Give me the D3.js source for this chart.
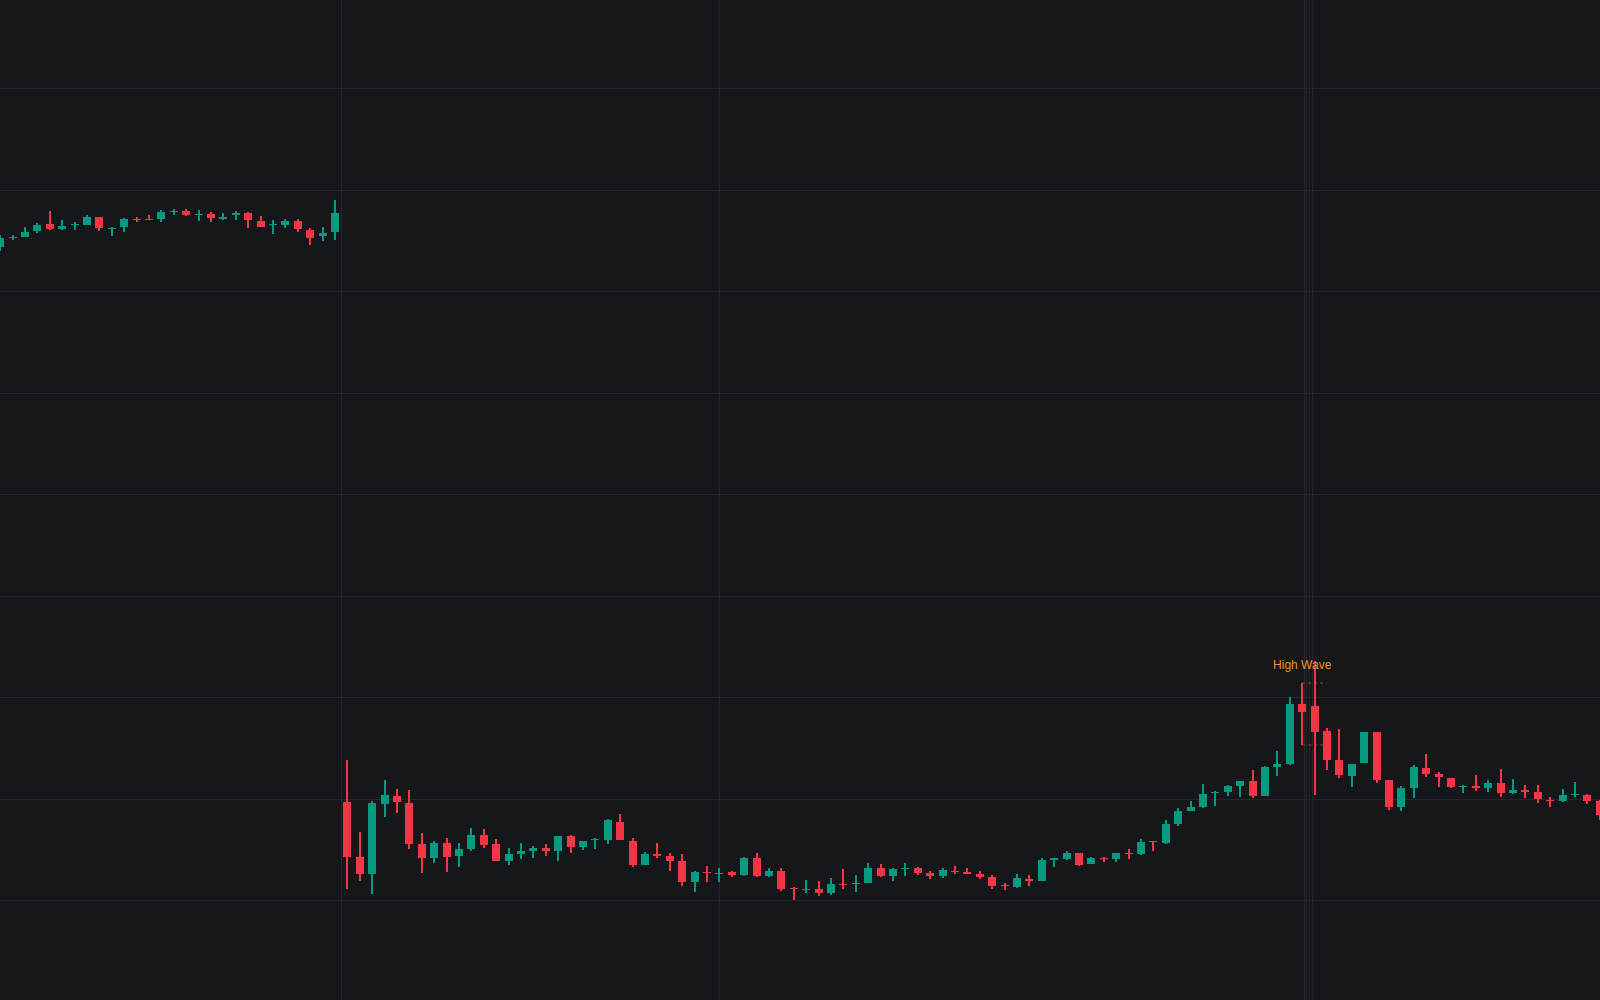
<!DOCTYPE html>
<html>
<head>
<meta charset="utf-8">
<script src="https://cdn.jsdelivr.net/npm/d3@7"></script>
<style>
html,body{margin:0;padding:0;background:#16171b;overflow:hidden;}
svg{display:block;}
</style>
</head>
<body>
<svg id="chart" width="1600" height="1000"></svg>
<script>
const openP = [
164.41,165.27,165.37,165.96,166.68,166.16,166.52,166.58,167.34,166.16,
166.29,167.14,167.14,167.14,167.83,167.93,167.51,167.64,167.17,167.47,
167.73,166.95,166.52,166.55,166.95,166.06,165.40,165.86,109.68,104.27,
102.59,109.49,110.28,109.59,105.55,104.17,105.65,104.37,105.06,106.43,
105.55,103.87,104.56,104.86,105.15,104.86,106.34,105.25,105.91,105.94,
107.71,105.84,103.48,104.56,104.37,103.87,101.80,102.79,102.59,102.79,
102.49,104.17,102.40,102.89,101.24,101.02,101.12,100.72,101.61,101.61,
101.71,103.18,102.40,103.08,103.18,102.69,102.40,102.89,102.79,102.59,
102.30,101.51,101.31,102.10,101.90,104.00,104.07,104.66,103.58,104.17,
104.07,104.66,104.56,105.84,105.65,107.52,108.80,109.19,110.57,110.67,
111.26,111.75,110.28,113.13,113.43,119.34,119.14,116.68,113.82,112.25,
113.53,116.58,111.85,109.19,111.06,113.03,112.44,112.05,111.16,111.26,
111.06,111.56,110.57,110.87,110.67,109.88,109.78,110.37,110.37,109.78];
const highP = [
165.57,165.50,166.36,166.72,167.93,167.04,166.85,167.54,167.34,166.36,
167.24,167.34,167.54,168.03,168.13,168.13,168.03,167.83,167.73,167.93,
167.83,167.44,167.04,167.14,167.14,166.26,166.36,169.02,113.82,106.73,
109.78,111.85,110.97,110.87,106.63,105.84,106.14,105.65,107.12,107.02,
106.04,105.15,105.65,105.35,105.55,106.34,106.43,105.84,106.14,108.01,
108.50,106.14,104.76,105.65,104.66,104.56,102.89,103.38,103.18,102.89,
104.27,104.66,103.18,103.18,101.31,102.00,101.90,102.20,103.08,102.49,
103.68,103.58,103.18,103.68,103.28,102.89,103.18,103.38,103.18,102.89,
102.49,101.71,102.59,102.49,104.17,104.17,104.86,104.66,104.27,104.27,
104.66,105.06,106.04,105.84,107.91,109.10,109.78,111.46,110.77,111.36,
111.75,112.84,113.23,114.71,120.03,121.41,123.57,116.97,116.88,113.43,
116.58,116.58,111.85,111.26,113.33,114.41,112.64,112.05,111.36,112.34,
111.85,112.94,111.95,111.36,111.36,110.18,110.97,111.65,110.47,109.88];
const lowP = [
163.99,165.01,165.37,165.76,166.06,166.06,166.06,166.58,165.96,165.47,
165.86,166.78,167.07,166.85,167.54,167.44,166.95,166.85,167.04,167.04,
166.26,166.36,165.67,166.26,165.86,164.58,164.98,165.07,101.12,101.90,
100.62,108.21,108.60,105.06,102.69,103.68,102.79,103.28,104.86,105.15,
103.87,103.48,104.07,104.17,104.37,103.87,104.66,104.96,105.06,105.55,
105.94,103.28,103.48,104.17,102.89,101.40,100.82,101.80,101.80,102.30,
102.40,102.30,102.30,100.92,100.02,100.72,100.43,100.52,101.12,100.82,
101.71,102.30,101.90,102.40,102.49,102.10,102.20,102.59,102.59,102.10,
101.12,101.02,101.21,101.41,101.90,103.28,103.97,103.38,103.58,103.77,
103.77,104.07,104.46,104.86,105.55,107.32,108.80,109.10,109.29,110.28,
110.18,110.08,110.28,112.25,113.33,115.30,110.37,112.84,112.05,111.16,
113.53,111.56,108.90,108.80,110.08,112.15,111.16,111.06,110.57,110.77,
110.67,110.18,110.47,110.08,109.59,109.19,109.68,110.18,109.49,107.91];
const closeP = [
165.24,165.37,165.86,166.58,166.16,166.45,166.62,167.34,166.19,166.26,
167.14,167.04,167.07,167.83,167.93,167.54,167.64,167.27,167.31,167.73,
166.98,166.36,166.65,166.95,166.09,165.30,165.76,167.73,104.27,102.59,
109.59,110.37,109.68,105.55,104.17,105.65,104.27,105.06,106.43,105.45,
103.87,104.56,104.86,105.15,104.89,106.34,105.25,105.84,106.04,107.91,
105.94,103.48,104.56,104.40,103.87,101.80,102.79,102.66,102.69,102.49,
104.17,102.40,102.89,101.12,101.12,101.12,100.72,101.61,101.48,101.71,
103.18,102.40,103.08,103.18,102.69,102.40,102.99,102.79,102.59,102.30,
101.41,101.38,102.20,101.90,103.97,104.14,104.66,103.48,104.17,104.07,
104.66,104.56,105.74,105.74,107.52,108.80,109.19,110.47,110.67,111.26,
111.75,110.28,113.13,113.43,119.34,118.55,116.58,113.82,112.34,113.43,
116.58,111.85,109.19,111.06,113.13,112.44,112.15,111.16,111.26,111.06,
111.56,110.57,110.87,110.67,109.98,109.78,110.37,110.47,109.78,108.40];

const priceTicks = [100,110,120,130,140,150,160,170,180];
const timeGridIdx = [27.5, 58, 105.15, 105.31, 105.51, 105.83];
const patternIdx = [105];
const patternLabels = ["High Wave"];

const W = 1600, H = 1000;
const UP = "#089981", DOWN = "#f23645";

const data = openP.map((o,i)=>({i, o, h:highP[i], l:lowP[i], c:closeP[i]}));

const x = d3.scaleLinear().domain([0, data.length-1]).range([0.2, 1599.8]);
const y = d3.scaleLinear().domain([90.177, 188.70]).range([H, 0]);

const svg = d3.select("#chart");
svg.append("rect").attr("width",W).attr("height",H).attr("fill","#16171b");

// horizontal grid
svg.append("g").selectAll("line").data(priceTicks).join("line")
  .attr("x1",0).attr("x2",W)
  .attr("y1",d=>Math.round(y(d))+0.5).attr("y2",d=>Math.round(y(d))+0.5)
  .attr("stroke","#25262b").attr("stroke-width",1);

// vertical grid
svg.append("g").selectAll("line").data(timeGridIdx).join("line")
  .attr("x1",d=>Math.round(x(d))+0.5).attr("x2",d=>Math.round(x(d))+0.5)
  .attr("y1",0).attr("y2",H)
  .attr("stroke","#25262b").attr("stroke-width",1);

// pattern guide lines (dashed high / low)
const pg = svg.append("g");
patternIdx.forEach((pi)=>{
  const d = data[pi];
  pg.append("line")
    .attr("x1",x(pi)).attr("x2",x(pi+2))
    .attr("y1",y(d.h)).attr("y2",y(d.h))
    .attr("stroke","rgba(255,152,0,0.24)").attr("stroke-width",2)
    .attr("stroke-dasharray","3,3");
  pg.append("line")
    .attr("x1",x(pi)).attr("x2",x(pi+2))
    .attr("y1",y(d.l)).attr("y2",y(d.l))
    .attr("stroke","rgba(242,54,69,0.38)").attr("stroke-width",2)
    .attr("stroke-dasharray","3,3");
});

// candles
const g = svg.append("g").attr("shape-rendering","crispEdges");
const bodyW = 8, wickW = 2;
const c = g.selectAll("g").data(data).join("g")
  .attr("fill", d=> d.c >= d.o ? UP : DOWN);
c.append("rect")
  .attr("x", d=> x(d.i) - wickW/2)
  .attr("width", wickW)
  .attr("y", d=> y(d.h))
  .attr("height", d=> Math.max(1, y(d.l) - y(d.h)));
c.append("rect")
  .attr("x", d=> x(d.i) - bodyW/2)
  .attr("width", bodyW)
  .attr("y", d=> y(Math.max(d.o, d.c)))
  .attr("height", d=> Math.max(1, Math.abs(y(d.o) - y(d.c))));

// pattern label
svg.append("g").selectAll("text").data(patternIdx).join("text")
  .attr("x", d=> x(d))
  .attr("y", d=> y(data[d].h) - 14)
  .attr("text-anchor","middle")
  .attr("font-family","'Liberation Sans', Arial, sans-serif")
  .attr("font-size", 12)
  .attr("fill","#f0931b")
  .text((d,k)=> patternLabels[k]);
</script>
</body>
</html>
